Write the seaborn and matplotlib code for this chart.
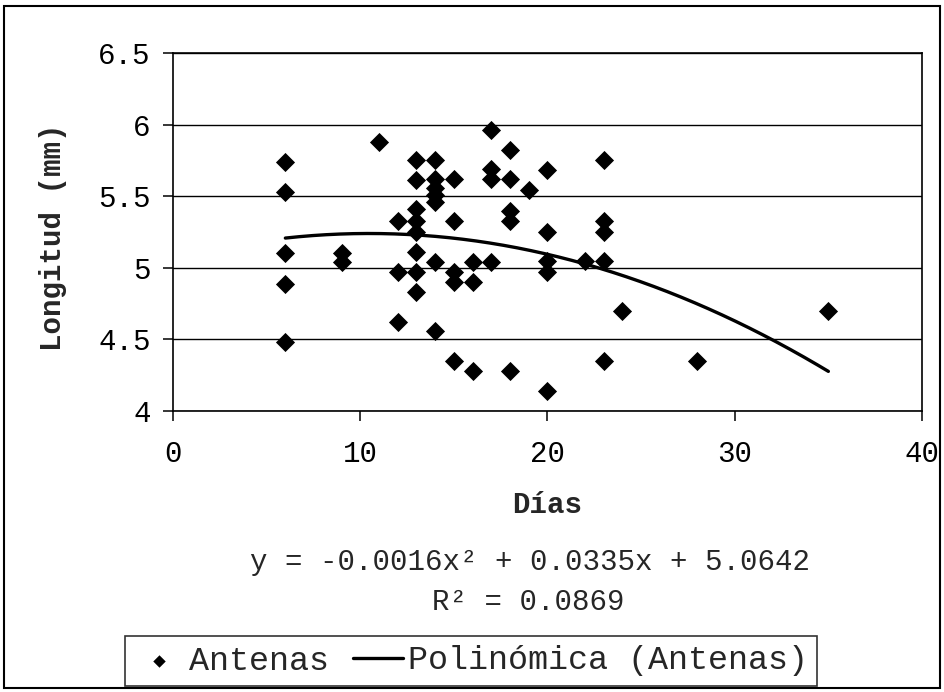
import numpy as np
import pandas as pd
import matplotlib
matplotlib.use("Agg")
import matplotlib.pyplot as plt
import seaborn as sns
from matplotlib.patches import Rectangle

# Antenas: length (mm) vs days
dias = [6, 6, 6, 6, 6,
        9, 9,
        11,
        12, 12, 12,
        13, 13, 13, 13, 13, 13, 13, 13,
        14, 14, 14, 14, 14, 14, 14,
        15, 15, 15, 15, 15,
        16, 16, 16,
        17, 17, 17, 17,
        18, 18, 18, 18, 18,
        19,
        20, 20, 20, 20, 20,
        22,
        23, 23, 23, 23, 23,
        24, 28, 35]
longitud = [5.74, 5.53, 5.10, 4.89, 4.48,
            5.10, 5.04,
            5.88,
            5.33, 4.97, 4.62,
            5.75, 5.61, 5.41, 5.33, 5.25, 5.11, 4.97, 4.83,
            5.75, 5.62, 5.56, 5.51, 5.46, 5.04, 4.56,
            5.62, 5.33, 4.97, 4.90, 4.35,
            5.04, 4.90, 4.28,
            5.96, 5.69, 5.62, 5.04,
            5.82, 5.62, 5.40, 5.33, 4.28,
            5.54,
            5.68, 5.25, 5.05, 4.97, 4.14,
            5.05,
            5.75, 5.33, 5.25, 5.05, 4.35,
            4.70, 4.35, 4.70]

# trend line coefficients as printed on the chart (x^2, x, 1)
coef = [-0.0016, 0.0335, 5.0642]

x_ticks = [0, 10, 20, 30, 40]
y_ticks = [4, 4.5, 5, 5.5, 6, 6.5]
ecuacion = "y = -0.0016x\u00b2 + 0.0335x + 5.0642"
r2_text = "R\u00b2 = 0.0869"

df = pd.DataFrame({"Días": dias, "Longitud": longitud})
xs = np.linspace(min(dias), max(dias), 200)
trend = pd.DataFrame({"Días": xs, "Longitud": np.polyval(coef, xs)})

sns.set_style("white")
plt.rcParams["font.family"] = ["Liberation Mono", "DejaVu Sans Mono"]

fig = plt.figure(figsize=(9.45, 6.92), dpi=100)
W, H = 945, 692
ax = fig.add_axes([173 / W, 1 - 411 / H, 749 / W, 358 / H])

sns.scatterplot(data=df, x="Días", y="Longitud", marker="D", s=95,
                color="black", edgecolor="black", linewidth=0, ax=ax,
                label="Antenas", zorder=3)
sns.lineplot(data=trend, x="Días", y="Longitud", color="black",
             linewidth=2.4, ax=ax, label="Polinómica (Antenas)")

ax.set_xlim(0, 40)
ax.set_ylim(4, 6.5)
ax.set_xticks(x_ticks)
ax.set_yticks(y_ticks)
ax.set_yticklabels([f"{v:g}" for v in y_ticks])
ax.yaxis.grid(True, color="black", linewidth=1.0)
ax.xaxis.grid(False)
for sp in ax.spines.values():
    sp.set_color("black")
    sp.set_linewidth(1.2)
ax.tick_params(axis="both", direction="out", length=7, width=1.1,
               color="black", labelcolor="black")
ax.tick_params(axis="x", labelsize=21, pad=14, bottom=True)
ax.tick_params(axis="y", labelsize=21, pad=9, left=True)

ax.set_xlabel("Días", fontsize=21, fontweight="bold")
ax.set_ylabel("Longitud (mm)", fontsize=21, fontweight="bold")
ax.xaxis.label.set_va("baseline")
ax.xaxis.set_label_coords(0.5, -(513 - 411) / 358)
ax.yaxis.label.set_rotation_mode("anchor")
ax.yaxis.label.set_va("baseline")
ax.yaxis.set_label_coords((61 - 173) / 749, (411 - 237) / 358)

fig.text(530 / W, 1 - 570 / H, ecuacion, ha="center", va="baseline",
         fontsize=21)
fig.text(528 / W, 1 - 610 / H, r2_text, ha="center", va="baseline",
         fontsize=21)

if ax.legend_:
    ax.legend_.remove()
handles, labels = ax.get_legend_handles_labels()
leg = fig.legend(handles, labels, loc="center", ncol=2,
                 bbox_to_anchor=(471 / W, 1 - 661 / H), fontsize=24,
                 frameon=True, fancybox=False, edgecolor="black",
                 handlelength=1.5, handletextpad=0.15, columnspacing=0.7,
                 borderpad=0.28, borderaxespad=0, markerscale=0.65)
leg.get_frame().set_linewidth(1.2)

fig.patches.append(Rectangle((4 / W, 4 / H), 936 / W, 682 / H,
                             transform=fig.transFigure, fill=False,
                             edgecolor="black", linewidth=1.5))

fig.savefig("out.png", dpi=100)
